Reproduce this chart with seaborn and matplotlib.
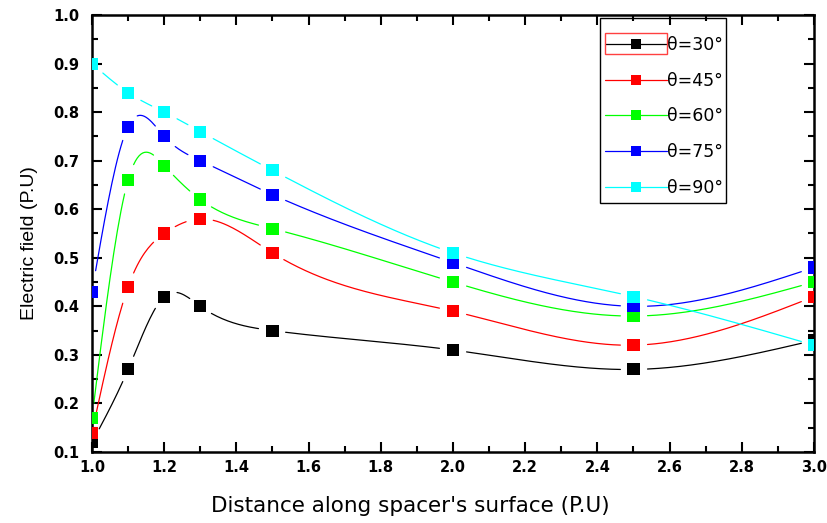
import numpy as np
import pandas as pd
import matplotlib
matplotlib.use("Agg")
import matplotlib.pyplot as plt
from matplotlib.lines import Line2D
from matplotlib.patches import Rectangle
from matplotlib.ticker import MultipleLocator, FormatStrFormatter
import seaborn as sns

# Данные
distance = [1.0, 1.1, 1.2, 1.3, 1.5, 2.0, 2.5, 3.0]
field_30 = [0.12, 0.27, 0.42, 0.40, 0.35, 0.31, 0.27, 0.33]
field_45 = [0.14, 0.44, 0.55, 0.58, 0.51, 0.39, 0.32, 0.42]
field_60 = [0.17, 0.66, 0.69, 0.62, 0.56, 0.45, 0.38, 0.45]
field_75 = [0.43, 0.77, 0.75, 0.70, 0.63, 0.49, 0.40, 0.48]
field_90 = [0.90, 0.84, 0.80, 0.76, 0.68, 0.51, 0.42, 0.32]
labels = ["θ=30°", "θ=45°", "θ=60°", "θ=75°", "θ=90°"]
colors = ["#000000", "#ff0000", "#00ff00", "#0000ff", "#00ffff"]

series = [field_30, field_45, field_60, field_75, field_90]
rows = []
for lab, vals in zip(labels, series):
    for x, y in zip(distance, vals):
        rows.append({"distance": x, "field": y, "theta": lab})
df = pd.DataFrame(rows)


# Натуральный кубический сплайн (как соединение "Spline" в Origin)
def spline_curve(x, y, n=400):
    x = np.asarray(x, float)
    y = np.asarray(y, float)
    k = len(x)
    h = np.diff(x)
    A = np.zeros((k, k))
    b = np.zeros(k)
    A[0, 0] = A[-1, -1] = 1
    for i in range(1, k - 1):
        A[i, i - 1] = h[i - 1]
        A[i, i] = 2 * (h[i - 1] + h[i])
        A[i, i + 1] = h[i]
        b[i] = 6 * ((y[i + 1] - y[i]) / h[i] - (y[i] - y[i - 1]) / h[i - 1])
    m = np.linalg.solve(A, b)
    xs = np.linspace(x[0], x[-1], n)
    idx = np.clip(np.searchsorted(x, xs) - 1, 0, k - 2)
    x0, x1 = x[idx], x[idx + 1]
    hh = x1 - x0
    t0, t1 = x1 - xs, xs - x0
    ys = (m[idx] * t0**3 + m[idx + 1] * t1**3) / (6 * hh) \
        + (y[idx] / hh - m[idx] * hh / 6) * t0 \
        + (y[idx + 1] / hh - m[idx + 1] * hh / 6) * t1
    return xs, ys


sns.set_style("ticks", {"axes.edgecolor": "black", "text.color": "black",
                        "axes.labelcolor": "black", "xtick.color": "black",
                        "ytick.color": "black"})
plt.rcParams["font.family"] = ["DejaVu Sans"]

W, H = 828, 523
fig = plt.figure(figsize=(W / 100, H / 100), dpi=100)
ax = fig.add_axes([92 / W, 1 - 452 / H, 722 / W, 437 / H])
ax.set_xlim(1.0, 3.0)
ax.set_ylim(0.1, 1.0)

# Кривые с разрывами возле маркеров
gap = 13
for lab, vals, col in zip(labels, series, colors):
    xs, ys = spline_curve(distance, vals)
    pts = ax.transData.transform(np.column_stack([xs, ys]))
    mk = ax.transData.transform(np.column_stack([distance, vals]))
    d = np.min(np.hypot(pts[:, None, 0] - mk[None, :, 0],
                        pts[:, None, 1] - mk[None, :, 1]), axis=1)
    ys = np.where(d < gap, np.nan, ys)
    ax.plot(xs, ys, color=col, lw=0.9)

sns.scatterplot(data=df, x="distance", y="field", hue="theta",
                palette=colors, marker="s", s=75, linewidth=0,
                legend=False, ax=ax, zorder=3)

ax.xaxis.set_major_locator(MultipleLocator(0.2))
ax.xaxis.set_minor_locator(MultipleLocator(0.1))
ax.yaxis.set_major_locator(MultipleLocator(0.1))
ax.yaxis.set_minor_locator(MultipleLocator(0.05))
ax.xaxis.set_major_formatter(FormatStrFormatter("%.1f"))
ax.yaxis.set_major_formatter(FormatStrFormatter("%.1f"))
ax.tick_params(which="both", direction="in", top=True, right=True, width=1.5)
ax.tick_params(which="major", length=7, labelsize=10.5)
ax.tick_params(axis="x", which="major", pad=6)
ax.tick_params(axis="y", which="major", pad=9)
ax.tick_params(which="minor", length=4)
for lbl in ax.get_xticklabels() + ax.get_yticklabels():
    lbl.set_fontweight("bold")
for sp in ax.spines.values():
    sp.set_linewidth(1.8)
    sp.set_visible(True)

ax.set_xlabel("Distance along spacer's surface (P.U)", fontsize=15.5)
ax.xaxis.set_label_coords((410 - 92) / 722, (452 - 496) / 437)
ax.set_ylabel("Electric field (P.U)", fontsize=14,
              family=["Liberation Sans", "DejaVu Sans"])
ax.yaxis.set_label_coords((38 - 92) / 722, (452 - 243) / 437)

# Легенда: рамка рисуется отдельно
handles = [Line2D([], [], color=c, lw=0.9, marker="s", markersize=7,
                  markeredgewidth=0) for c in colors]
ax.legend(handles, labels, loc="upper left",
          bbox_to_anchor=(605 / W, 1 - 36 / H), bbox_transform=fig.transFigure,
          fontsize=12.5, frameon=False, handlelength=3.55,
          handletextpad=0.05, labelspacing=1.02, borderpad=0, borderaxespad=0)
fig.patches.append(Rectangle((600 / W, 1 - 203 / H), 126 / W, 185 / H,
                             transform=fig.transFigure, fill=False,
                             edgecolor="black", lw=1.0, zorder=5))
# Красная рамка выделения у первой записи легенды
fig.patches.append(Rectangle((605 / W, 1 - 54 / H), 62 / W, 21 / H,
                             transform=fig.transFigure, fill=False,
                             edgecolor="#ff4040", lw=1.0, zorder=5))

fig.savefig("out.png", dpi=100)
